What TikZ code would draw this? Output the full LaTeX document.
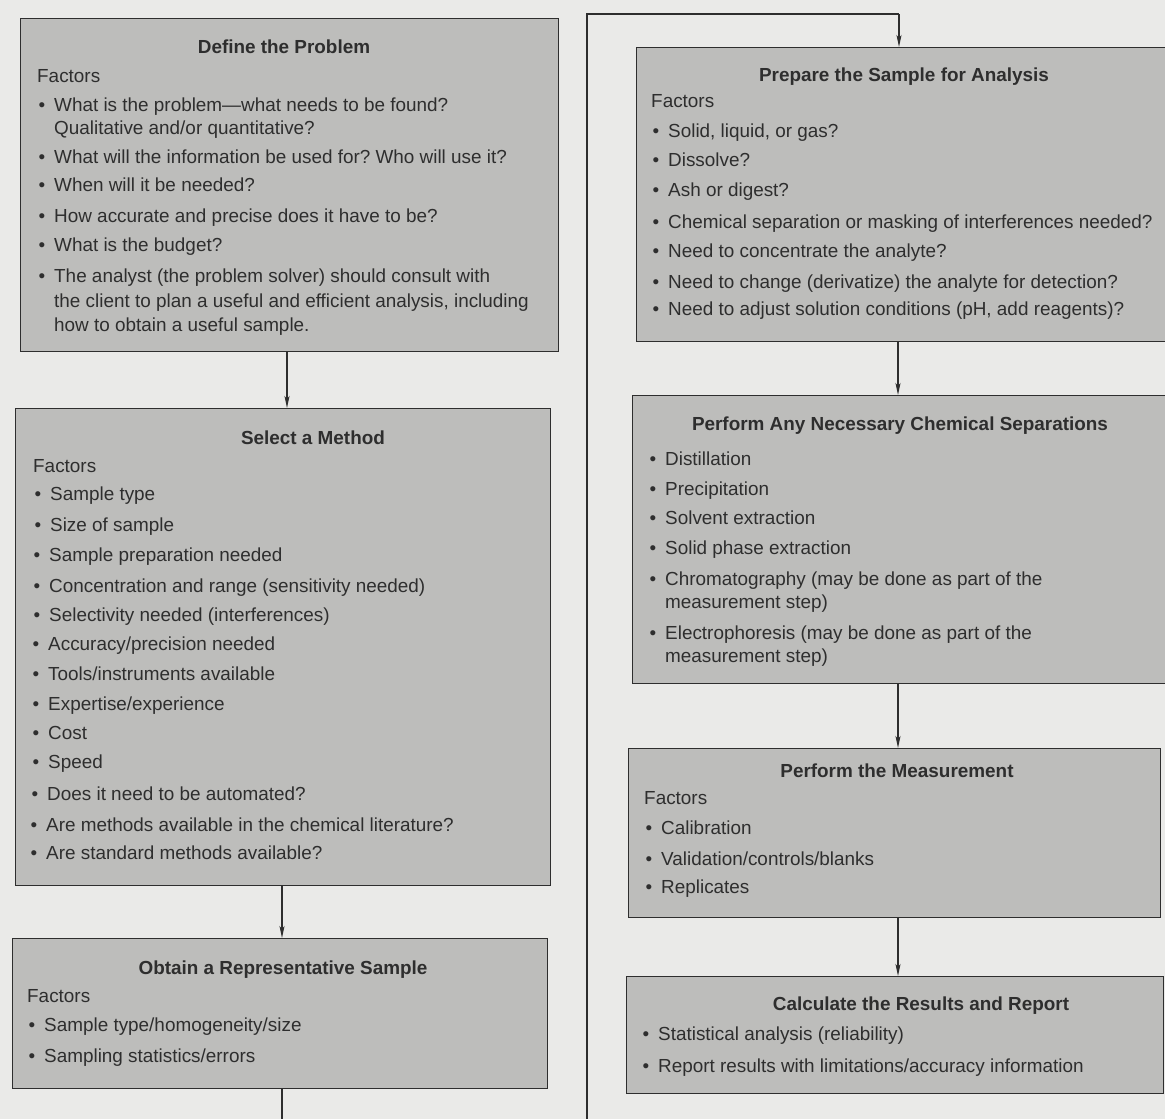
\documentclass[tikz,border=0pt]{standalone}
\usepackage{fontspec}
\setmainfont{Liberation Sans}
\usetikzlibrary{arrows.meta}
\frenchspacing
\definecolor{pagebg}{HTML}{EAEAE8}
\definecolor{boxfill}{HTML}{BDBDBB}
\definecolor{ink}{HTML}{2E2E2E}
\newcommand{\mybul}{\llap{\textbullet\hskip 9pt}}
\tikzset{
  box/.style={draw=ink, line width=1.4pt, fill=boxfill, inner sep=0pt, anchor=north west},
  ttl/.style={anchor=base, inner sep=0pt, text=ink, font=\fontsize{18.9}{22}\selectfont\bfseries},
  txt/.style={anchor=base west, inner sep=0pt, text=ink, font=\fontsize{18.9}{22}\selectfont},
  conn/.style={draw=ink, line width=1.3pt},
  arr/.style={conn, -{Stealth[length=12pt,width=5pt,inset=3pt]}}
}
\begin{document}
\begin{tikzpicture}[x=1pt,y=-1pt]
\useasboundingbox[fill=pagebg] (0,0) rectangle (1165,1119);
% boxes
\node[box, minimum width=538pt, minimum height=333pt] (define) at (20,18) {};
\node[box, minimum width=535pt, minimum height=477pt] (select) at (15,408) {};
\node[box, minimum width=535pt, minimum height=150pt] (obtain) at (12,938) {};
\node[box, minimum width=540pt, minimum height=294pt] (prepare) at (636,47) {};
\node[box, minimum width=540pt, minimum height=288pt] (chem) at (632,395) {};
\node[box, minimum width=532pt, minimum height=169pt] (meas) at (628,748) {};
\node[box, minimum width=537pt, minimum height=117pt] (calc) at (626,976) {};
% connectors
\coordinate (lb) at (587,1135);
\coordinate (lt) at (587,14);
\coordinate (pt) at (899,14);
\draw[arr] (287,351) -- (287,408);
\draw[arr] (282,885) -- (282,938);
\draw[conn] (282,1088) -- (282,1135) -- (lb) -- (lt) -- (pt);
\draw[arr] (pt) -- (899,47);
\draw[arr] (898,341) -- (898,395);
\draw[arr] (898,683) -- (898,748);
\draw[arr] (898,917) -- (898,976);
% Define the Problem
\node[ttl] (dt) at (284,53) {Define the Problem};
\node[txt] (df) at (37,82) {Factors};
\node[txt] (d1) at (54,111) {\mybul What is the problem—what needs to be found?};
\node[txt] (d1b) at (54,134) {Qualitative and/or quantitative?};
\node[txt] (d2) at (54,163) {\mybul What will the information be used for? Who will use it?};
\node[txt] (d3) at (54,191) {\mybul When will it be needed?};
\node[txt] (d4) at (54,222) {\mybul How accurate and precise does it have to be?};
\node[txt] (d5) at (54,251) {\mybul What is the budget?};
\node[txt] (d6) at (54,282) {\mybul The analyst (the problem solver) should consult with};
\node[txt] (d6b) at (54,307) {the client to plan a useful and efficient analysis, including};
\node[txt] (d6c) at (54,331) {how to obtain a useful sample.};
% Select a Method
\node[ttl] (st) at (313,444) {Select a Method};
\node[txt] (sf) at (33,472) {Factors};
\node[txt] (s1) at (50,500) {\mybul Sample type};
\node[txt] (s2) at (50,531) {\mybul Size of sample};
\node[txt] (s3) at (49,561) {\mybul Sample preparation needed};
\node[txt] (s4) at (49,592) {\mybul Concentration and range (sensitivity needed)};
\node[txt] (s5) at (49,621) {\mybul Selectivity needed (interferences)};
\node[txt] (s6) at (48,650) {\mybul Accuracy/precision needed};
\node[txt] (s7) at (48,680) {\mybul Tools/instruments available};
\node[txt] (s8) at (48,710) {\mybul Expertise/experience};
\node[txt] (s9) at (48,739) {\mybul Cost};
\node[txt] (s10) at (48,768) {\mybul Speed};
\node[txt] (s11) at (47,800) {\mybul Does it need to be automated?};
\node[txt] (s12) at (46,831) {\mybul Are methods available in the chemical literature?};
\node[txt] (s13) at (46,859) {\mybul Are standard methods available?};
% Obtain a Representative Sample
\node[ttl] (ot) at (283,974) {Obtain a Representative Sample};
\node[txt] (of) at (27,1002) {Factors};
\node[txt] (o1) at (44,1031) {\mybul Sample type/homogeneity/size};
\node[txt] (o2) at (44,1062) {\mybul Sampling statistics/errors};
% Prepare
\node[ttl] (pt1) at (904,81) {Prepare the Sample for Analysis};
\node[txt] (pf) at (651,107) {Factors};
\node[txt] (p1) at (668,137) {\mybul Solid, liquid, or gas?};
\node[txt] (p2) at (668,166) {\mybul Dissolve?};
\node[txt] (p3) at (668,196) {\mybul Ash or digest?};
\node[txt] (p4) at (668,228) {\mybul Chemical separation or masking of interferences needed?};
\node[txt] (p5) at (668,257) {\mybul Need to concentrate the analyte?};
\node[txt] (p6) at (668,288) {\mybul Need to change (derivatize) the analyte for detection?};
\node[txt] (p7) at (668,315) {\mybul Need to adjust solution conditions (pH, add reagents)?};
% Chemical separations
\node[ttl] (ct) at (900,430) {Perform Any Necessary Chemical Separations};
\node[txt] (c1) at (665,465) {\mybul Distillation};
\node[txt] (c2) at (665,495) {\mybul Precipitation};
\node[txt] (c3) at (665,524) {\mybul Solvent extraction};
\node[txt] (c4) at (665,554) {\mybul Solid phase extraction};
\node[txt] (c5) at (665,585) {\mybul Chromatography (may be done as part of the};
\node[txt] (c5b) at (665,608) {measurement step)};
\node[txt] (c6) at (665,639) {\mybul Electrophoresis (may be done as part of the};
\node[txt] (c6b) at (665,662) {measurement step)};
% Measurement
\node[ttl] (mt) at (897,777) {Perform the Measurement};
\node[txt] (mf) at (644,804) {Factors};
\node[txt] (m1) at (661,834) {\mybul Calibration};
\node[txt] (m2) at (661,865) {\mybul Validation/controls/blanks};
\node[txt] (m3) at (661,893) {\mybul Replicates};
% Calculate
\node[ttl] (kt) at (921,1010) {Calculate the Results and Report};
\node[txt] (k1) at (658,1040) {\mybul Statistical analysis (reliability)};
\node[txt] (k2) at (658,1072) {\mybul Report results with limitations/accuracy information};
\end{tikzpicture}
\end{document}
